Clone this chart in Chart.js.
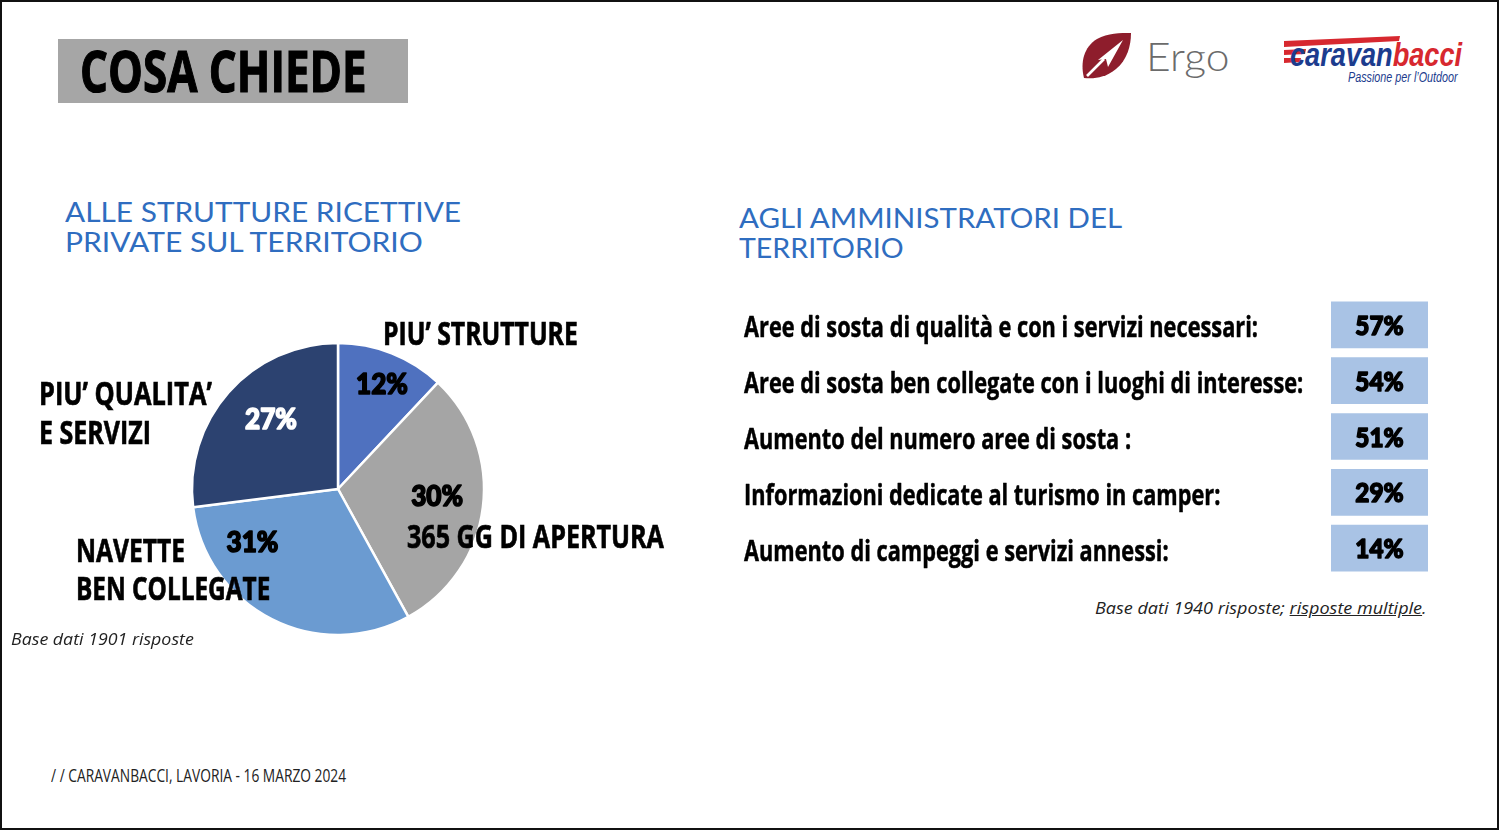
<!DOCTYPE html>
<html>
<head>
<meta charset="utf-8">
<script src="https://cdn.jsdelivr.net/npm/chart.js@4.4.1/dist/chart.umd.min.js"></script>
<style>
  html, body { margin: 0; padding: 0; background: #fff; }
  #slide { position: absolute; left: 0; top: 0; width: 1499px; height: 830px; box-sizing: border-box;
           border: 2px solid #111; overflow: hidden; background: #fff; }
  .t { position: absolute; white-space: nowrap; transform-origin: 0 0; line-height: 1; }
  canvas { position: absolute; }
  #titlebox { position: absolute; left: 56px; top: 37px; width: 350px; height: 64px; background: #A6A6A6; }
  #deco { position: absolute; left: -2px; top: -2px; }
</style>
</head>
<body>
<div id="slide">
  <div id="titlebox"></div>
  <svg id="deco" width="1500" height="831" viewBox="0 0 1500 831">
    <!-- Ergo leaf -->
    <path d="M1084,78 C1080,62 1084,47 1097,39 C1108,33 1120,33 1131,33 C1131,46 1127,60 1116,69 C1105,78 1094,79 1084,78 Z" fill="#8E1D2C"/>
    <path d="M1087,76 L1104,59" stroke="#fff" stroke-width="2.6" fill="none"/>
    <path d="M1098,60 L1123,40 L1108,67 L1106,59 Z" fill="#fff"/>
    <!-- caravanbacci stripes -->
    <path d="M1284,41 L1400,36 L1399,41 L1284,47 Z" fill="#D7282F"/>
    <path d="M1284,50 L1306,49 L1305,54 L1284,55 Z" fill="#D7282F"/>
    <path d="M1284,58 L1301,58 L1300,62 L1284,63 Z" fill="#D7282F"/>
  </svg>
  <canvas id="pie" width="676" height="400" style="left:-2px; top:287px; width:676px; height:400px;"></canvas>
  <canvas id="list" width="698" height="279" style="left:728px; top:295px; width:698px; height:279px;"></canvas>
</div>
<script>
// ---------------- DATA ----------------
const pieCategories = ["PIU’ STRUTTURE", "365 GG DI APERTURA", "NAVETTE BEN COLLEGATE", "PIU’ QUALITA’ E SERVIZI"];
const pieValues = [12, 30, 31, 27];
const listLabels = [
  "Aree di sosta di qualità e con i servizi necessari:",
  "Aree di sosta ben collegate con i luoghi di interesse:",
  "Aumento del numero aree di sosta :",
  "Informazioni dedicate al turismo in camper:",
  "Aumento di campeggi e servizi annessi:"
];
const listValues = [57, 54, 51, 29, 14];

// ---------------- STYLE ----------------
const pieColors = ['#4F71BF', '#A5A5A5', '#6B9BD1', '#2C4270'];
const pctStyle = [
  { f: 0.523, r: 0.783, color: '#000' },
  { f: 0.468, r: 0.680, color: '#000' },
  { f: 0.780, r: 0.689, color: '#000' },
  { f: 0.550, r: 0.664, color: '#fff' }
];
const catLines = [
  { lines: ["PIU’ STRUTTURE"], x: 383, base: [345], w: [195] },
  { lines: ["365 GG DI APERTURA"], x: 407, base: [548], w: [257] },
  { lines: ["NAVETTE", "BEN COLLEGATE"], x: 76, base: [562, 600], w: [109, 194] },
  { lines: ["PIU’ QUALITA’", "E SERVIZI"], x: 39, base: [405, 444], w: [173, 112] }
];
const condFont = '"Liberation Sans Narrow", "Open Sans", sans-serif';
const headFont = '"Lato", "Noto Sans", sans-serif';

const slide = document.getElementById('slide');
function placeText(cfg) {
  const d = document.createElement('div');
  d.className = 't';
  d.style.left = (cfg.x - 2) + 'px';
  d.style.font = `${cfg.style || 'normal'} ${cfg.weight || 400} ${cfg.fs}px ${cfg.font}`;
  d.style.color = cfg.color || '#000';
  if (cfg.stroke) d.style.webkitTextStroke = cfg.stroke + 'px ' + (cfg.color || '#000');
  if (cfg.html) d.innerHTML = cfg.html; else d.textContent = cfg.text;
  const m = document.createElement('span');
  m.style.cssText = 'display:inline-block;width:0;height:0;vertical-align:baseline';
  d.appendChild(m);
  slide.appendChild(d);
  const bo = m.offsetTop;
  d.style.top = (cfg.base - 2 - bo) + 'px';
  if (cfg.w) {
    const w = d.offsetWidth;
    d.style.transform = `scaleX(${cfg.w / w})`;
  }
  return d;
}

function heavyText(ctx, text, x, y, k, lw) {
  ctx.save();
  ctx.translate(x, y);
  ctx.scale(k, 1);
  ctx.lineJoin = 'round';
  ctx.lineWidth = lw;
  ctx.strokeStyle = ctx.fillStyle;
  ctx.strokeText(text, 0, 0);
  ctx.fillText(text, 0, 0);
  ctx.restore();
}

function build() {
  placeText({ text: 'COSA CHIEDE', x: 80, base: 92, fs: 58, font: condFont, weight: 700, color: '#000', w: 287, stroke: 1.2 });
  placeText({ text: 'Ergo', x: 1146, base: 71, fs: 40, font: '"Lato", sans-serif', weight: 300, color: '#6B6B6B', w: 83 });
  placeText({ html: '<span style="color:#1C3C8E">caravan</span><span style="color:#D7282F">bacci</span>', x: 1290, base: 66, fs: 33,
              font: '"Liberation Sans", Arial, sans-serif', weight: 700, style: 'italic', w: 172 });
  placeText({ text: 'Passione per l’Outdoor', x: 1348, base: 82, fs: 15, font: '"Liberation Sans", Arial, sans-serif',
              style: 'italic', color: '#1C3C8E', w: 110 });
  const blue = '#2F6DC0';
  placeText({ text: 'ALLE STRUTTURE RICETTIVE', x: 65, base: 222, fs: 26, font: headFont, color: blue, w: 396 });
  placeText({ text: 'PRIVATE SUL TERRITORIO', x: 65, base: 252, fs: 26, font: headFont, color: blue, w: 358 });
  placeText({ text: 'AGLI AMMINISTRATORI DEL', x: 739, base: 228, fs: 27, font: headFont, color: blue, w: 383 });
  placeText({ text: 'TERRITORIO', x: 739, base: 258, fs: 27, font: headFont, color: blue, w: 165 });
  catLines.forEach(c => c.lines.forEach((ln, j) =>
    placeText({ text: ln, x: c.x, base: c.base[j], fs: 33, font: condFont, weight: 700, color: '#000', w: c.w[j], stroke: 0.7 })));
  placeText({ text: 'Base dati 1901 risposte', x: 11, base: 645, fs: 17, font: '"Open Sans", sans-serif', style: 'italic', color: '#222', w: 183 });
  placeText({ html: 'Base dati 1940 risposte; <span style="text-decoration:underline">risposte multiple</span>.', x: 1095, base: 614, fs: 17,
              font: '"Open Sans", sans-serif', style: 'italic', color: '#222', w: 332 });
  placeText({ text: '/ /  CARAVANBACCI, LAVORIA - 16 MARZO 2024', x: 51, base: 782, fs: 19, font: condFont, color: '#222', w: 295 });

  // ---------- PIE ----------
  const pctPlugin = {
    id: 'pct',
    afterDatasetsDraw(chart) {
      const ctx = chart.ctx;
      const meta = chart.getDatasetMeta(0);
      ctx.save();
      ctx.font = '900 29px Lato, sans-serif';
      ctx.textAlign = 'center';
      ctx.textBaseline = 'alphabetic';
      meta.data.forEach((arc, i) => {
        const p = arc.getProps(['x', 'y', 'startAngle', 'endAngle', 'outerRadius'], true);
        const s = pctStyle[i];
        const a = p.startAngle + (p.endAngle - p.startAngle) * s.f;
        const px = p.x + Math.cos(a) * p.outerRadius * s.r;
        const py = p.y + Math.sin(a) * p.outerRadius * s.r;
        ctx.fillStyle = s.color;
        heavyText(ctx, pieValues[i] + '%', px, py + 10.5, 0.9, 1.6);
      });
      ctx.restore();
    }
  };
  new Chart(document.getElementById('pie'), {
    type: 'pie',
    data: {
      labels: pieCategories,
      datasets: [{ data: pieValues, backgroundColor: pieColors, borderColor: '#fff', borderWidth: 2.5, radius: 146 }]
    },
    options: {
      responsive: false, animation: false,
      layout: { padding: 0 },
      plugins: { legend: { display: false }, tooltip: { enabled: false } }
    },
    plugins: [pctPlugin]
  });

  // ---------- LIST ----------
  const labelGap = 587;
  const listPlugin = {
    id: 'listText',
    afterDatasetsDraw(chart) {
      const ctx = chart.ctx;
      const meta = chart.getDatasetMeta(0);
      ctx.save();
      ctx.font = `700 29px ${condFont}`;
      const k = 514 / ctx.measureText(listLabels[0]).width;
      ctx.fillStyle = '#000';
      ctx.textAlign = 'left';
      ctx.textBaseline = 'alphabetic';
      const lx = chart.chartArea.left - labelGap;
      meta.data.forEach((bar, i) => {
        heavyText(ctx, listLabels[i], lx, bar.y + 12.5, k, 0.5);
      });
      ctx.font = '900 27px Lato, sans-serif';
      ctx.textAlign = 'center';
      meta.data.forEach((bar, i) => {
        const cx = (bar.x + bar.base) / 2;
        heavyText(ctx, listValues[i] + '%', cx, bar.y + 10, 0.9, 1.5);
      });
      ctx.restore();
    }
  };
  new Chart(document.getElementById('list'), {
    type: 'bar',
    data: {
      labels: listLabels,
      datasets: [{ data: listValues.map(() => [0, 1]), backgroundColor: '#A9C3E5', borderWidth: 0, barThickness: 46 }]
    },
    options: {
      indexAxis: 'y', responsive: false, animation: false,
      layout: { padding: { left: 601, right: 0, top: 0, bottom: 0 } },
      scales: { x: { display: false, min: 0, max: 1 }, y: { display: false } },
      plugins: { legend: { display: false }, tooltip: { enabled: false } }
    },
    plugins: [listPlugin]
  });
}

(document.fonts && document.fonts.ready ? document.fonts.ready : Promise.resolve()).then(build);
</script>
</body>
</html>
